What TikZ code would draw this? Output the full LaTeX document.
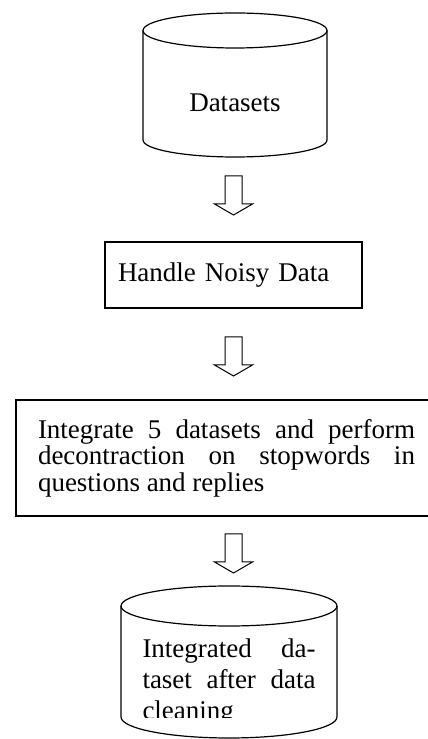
\documentclass[tikz,border=0pt]{standalone}
\usepackage{fontspec}
\setmainfont{Liberation Serif}
\usetikzlibrary{positioning}

\tikzstyle{block} = [draw, rectangle, inner sep=0pt, outer sep=0pt]
\tikzstyle{store} = [rectangle, inner sep=0pt, outer sep=0pt]
\tikzset{darrow/.pic={\draw[line width=1pt] (-8.5,0) -- (-8.5,-28) -- (-19,-28) -- (0,-39) -- (19,-28) -- (8.5,-28) -- (8.5,0) -- cycle;}}

\begin{document}
\begin{tikzpicture}[x=1pt,y=1pt,line width=1.2pt,font=\fontsize{27}{26.5}\selectfont]
	\useasboundingbox (0,0) rectangle (428,739);

	% the stores and blocks, top to bottom
	\node [store,minimum width=184pt,minimum height=109pt] (db1) at (235,636.5) {Datasets};
	\node [block,minimum width=257pt,minimum height=66pt,text width=231pt,align=left] (noisy) at (233.5,464) {Handle Noisy Data};
	\node [block,anchor=west,text width=377pt,inner xsep=22pt,minimum height=116pt,align=justify] (merge) at (16,281)
		{Integrate 5 datasets and perform\linebreak decontraction on stopwords in\linebreak questions and replies};
	\begin{scope}
		\clip (100,21) rectangle (360,140);
		\node [store,minimum width=216pt,minimum height=112pt,text width=173pt,align=justify,font=\fontsize{27}{31}\selectfont] (db2) at (229,57)
			{Integrated da-\linebreak taset after data\linebreak cleaning};
	\end{scope}

	% cylinder outlines
	\draw ([yshift=17.5pt]db1.north west) -- ([yshift=17pt]db1.south west) arc[start angle=180,end angle=360,x radius=92pt,y radius=17pt] -- ([yshift=17.5pt]db1.north east);
	\draw ([yshift=17.5pt]db1.north) ellipse [x radius=92pt,y radius=17.5pt];
	\draw ([yshift=20pt]db2.north west) -- ([yshift=21pt]db2.south west) arc[start angle=180,end angle=360,x radius=108pt,y radius=21pt] -- ([yshift=20pt]db2.north east);
	\draw ([yshift=20pt]db2.north) ellipse [x radius=108pt,y radius=20pt];

	% hollow arrows between the steps
	\coordinate (a1) at (233.5,563);
	\coordinate (a2) at (233.5,402);
	\coordinate (a3) at (233.5,205);
	\pic at (a1) {darrow};
	\pic at (a2) {darrow};
	\pic at (a3) {darrow};

\end{tikzpicture}
\end{document}
